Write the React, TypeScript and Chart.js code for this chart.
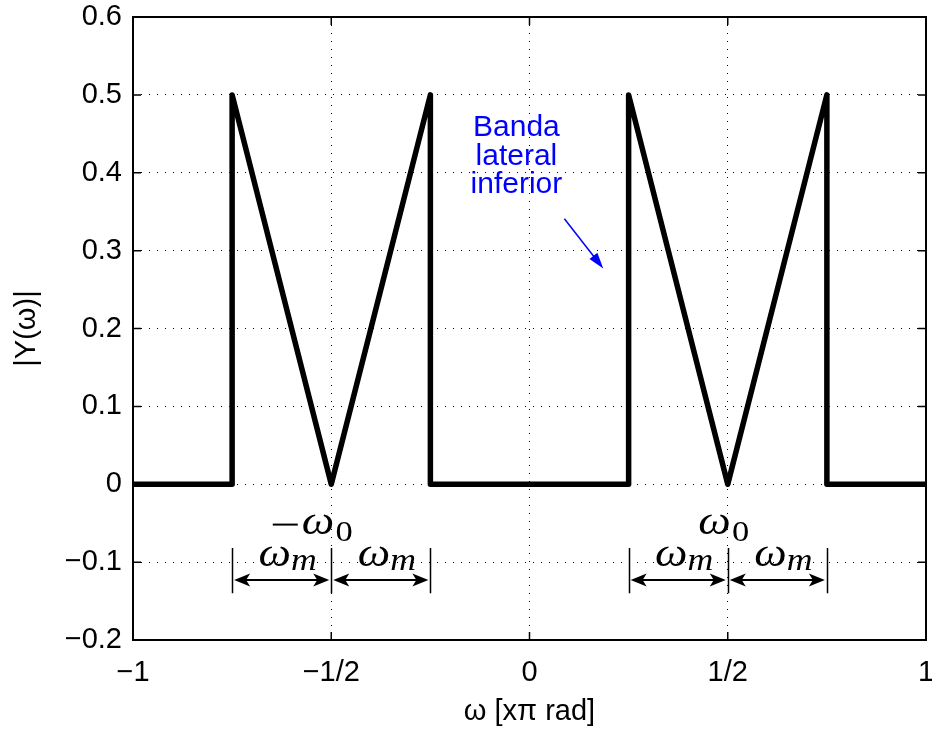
import React, { useEffect, useRef } from "react";
import { Chart, registerables } from "chart.js";

Chart.register(...registerables);

// ---- data ----
const freqX = [-1, -0.75, -0.75, -0.5, -0.25, -0.25, 0.25, 0.25, 0.5, 0.75, 0.75, 1];
const magnitude = [0, 0, 0.5, 0, 0.5, 0, 0, 0.5, 0, 0.5, 0, 0];

const xTickValues = [-1, -0.5, 0, 0.5, 1];
const xTickLabels = ["\u22121", "\u22121/2", "0", "1/2", "1"];
const yTickValues = [-0.2, -0.1, 0, 0.1, 0.2, 0.3, 0.4, 0.5, 0.6];
const yTickLabels = ["\u22120.2", "\u22120.1", "0", "0.1", "0.2", "0.3", "0.4", "0.5", "0.6"];

// annotation content
const carrierX = [-0.5, 0.5];
const carrierNegative = [true, false];
const markerX = [-0.75, -0.5, -0.25, 0.25, 0.5, 0.75];
const spanStart = [-0.75, -0.5, 0.25, 0.5];
const spanEnd = [-0.5, -0.25, 0.5, 0.75];
const bandLabelLines = ["Banda", "lateral", "inferior"];
const bandLabelX = -0.033;
const bandLabelY = [0.458, 0.421, 0.385];
const bandArrowFrom = [0.088, 0.341];
const bandArrowTo = [0.186, 0.277];

const SANS = '"Liberation Sans", Arial, Helvetica, sans-serif';
const SERIF = '"Liberation Serif", "Times New Roman", serif';
const FS = 29;

function stealthHead(ctx: CanvasRenderingContext2D, x: number, y: number, dir: number) {
  const L = 16, W = 6.5, back = 4;
  ctx.beginPath();
  ctx.moveTo(x, y);
  ctx.lineTo(x - dir * L, y - W);
  ctx.lineTo(x - dir * (L - back), y);
  ctx.lineTo(x - dir * L, y + W);
  ctx.closePath();
  ctx.fill();
}

const overlay = {
  id: "overlay",
  afterDatasetsDraw(chart: any) {
    const { ctx, chartArea: a, scales } = chart;
    const xs = scales.x, ys = scales.y;
    ctx.save();
    ctx.strokeStyle = "#000";
    ctx.fillStyle = "#000";
    // inward ticks
    ctx.lineWidth = 1.5;
    const tl = 8;
    ctx.beginPath();
    xTickValues.forEach((v) => {
      const px = xs.getPixelForValue(v);
      ctx.moveTo(px, a.bottom); ctx.lineTo(px, a.bottom - tl);
      ctx.moveTo(px, a.top); ctx.lineTo(px, a.top + tl);
    });
    yTickValues.forEach((v) => {
      const py = ys.getPixelForValue(v);
      ctx.moveTo(a.left, py); ctx.lineTo(a.left + tl, py);
      ctx.moveTo(a.right, py); ctx.lineTo(a.right - tl, py);
    });
    ctx.stroke();
    // box
    ctx.lineWidth = 2;
    ctx.strokeRect(a.left, a.top, a.right - a.left, a.bottom - a.top);

    // dimension marker verticals
    ctx.lineWidth = 1.5;
    const yTop = ys.getPixelForValue(-0.082);
    const yBot = ys.getPixelForValue(-0.14);
    ctx.beginPath();
    markerX.forEach((v) => {
      const px = Math.round(xs.getPixelForValue(v)) + 0.5;
      ctx.moveTo(px, yTop); ctx.lineTo(px, yBot);
    });
    ctx.stroke();
    // double arrows
    const yArr = ys.getPixelForValue(-0.123);
    spanStart.forEach((s, i) => {
      const x1 = xs.getPixelForValue(s) + 2;
      const x2 = xs.getPixelForValue(spanEnd[i]) - 2;
      ctx.lineWidth = 2;
      ctx.beginPath();
      ctx.moveTo(x1 + 8, yArr); ctx.lineTo(x2 - 8, yArr);
      ctx.stroke();
      stealthHead(ctx, x1, yArr, -1);
      stealthHead(ctx, x2, yArr, 1);
      // omega_m label
      const mid = (xs.getPixelForValue(s) + xs.getPixelForValue(spanEnd[i])) / 2;
      const base = ys.getPixelForValue(-0.105);
      ctx.save();
      ctx.translate(mid + 6, base);
      ctx.scale(1.15, 1);
      ctx.font = `italic 40px ${SERIF}`;
      const w1 = ctx.measureText("\u03c9").width;
      ctx.font = `italic 31px ${SERIF}`;
      const w2 = ctx.measureText("m").width;
      const start = -(w1 + w2) / 2;
      ctx.textAlign = "left";
      ctx.textBaseline = "alphabetic";
      ctx.font = `italic 40px ${SERIF}`;
      ctx.fillText("\u03c9", start, 0);
      ctx.font = `italic 31px ${SERIF}`;
      ctx.fillText("m", start + w1, 4);
      ctx.restore();
    });
    // carrier labels
    carrierX.forEach((c, i) => {
      const px = xs.getPixelForValue(c);
      const base = ys.getPixelForValue(-0.064);
      ctx.save();
      ctx.translate(px + 3, base);
      ctx.scale(1.15, 1);
      ctx.textBaseline = "alphabetic";
      ctx.font = `italic 40px ${SERIF}`;
      const ww = ctx.measureText("\u03c9").width;
      ctx.textAlign = "right";
      ctx.fillText("\u03c9", 0, 0);
      ctx.textAlign = "left";
      ctx.font = `30px ${SERIF}`;
      ctx.fillText("0", 1, 7);
      ctx.restore();
      if (carrierNegative[i]) {
        // long math minus sign
        const wPx = ww * 1.15;
        ctx.fillRect(px + 3 - wPx - 29, base - 10.5, 25, 2);
      }
    });

    // blue annotation
    ctx.fillStyle = "#0000ff";
    ctx.strokeStyle = "#0000ff";
    ctx.font = `30px ${SANS}`;
    ctx.textAlign = "center";
    ctx.textBaseline = "middle";
    bandLabelLines.forEach((t, i) => {
      ctx.fillText(t, xs.getPixelForValue(bandLabelX), ys.getPixelForValue(bandLabelY[i]));
    });
    const ax1 = xs.getPixelForValue(bandArrowFrom[0]);
    const ay1 = ys.getPixelForValue(bandArrowFrom[1]);
    const ax2 = xs.getPixelForValue(bandArrowTo[0]);
    const ay2 = ys.getPixelForValue(bandArrowTo[1]);
    const ang = Math.atan2(ay2 - ay1, ax2 - ax1);
    const HL = 16, HW = 5;
    ctx.lineWidth = 1.5;
    ctx.beginPath();
    ctx.moveTo(ax1, ay1);
    ctx.lineTo(ax2 - Math.cos(ang) * HL * 0.8, ay2 - Math.sin(ang) * HL * 0.8);
    ctx.stroke();
    ctx.beginPath();
    ctx.moveTo(ax2, ay2);
    ctx.lineTo(ax2 - Math.cos(ang) * HL + Math.sin(ang) * HW, ay2 - Math.sin(ang) * HL - Math.cos(ang) * HW);
    ctx.lineTo(ax2 - Math.cos(ang) * HL - Math.sin(ang) * HW, ay2 - Math.sin(ang) * HL + Math.cos(ang) * HW);
    ctx.closePath();
    ctx.fill();
    ctx.restore();
  },
};

export default function App() {
  const ref = useRef<HTMLCanvasElement | null>(null);
  useEffect(() => {
    document.body.style.margin = "0";
    const canvas = ref.current!;
    const chart = new Chart(canvas, {
      type: "scatter",
      data: {
        datasets: [
          {
            data: freqX.map((x, i) => ({ x, y: magnitude[i] })),
            showLine: true,
            borderColor: "#000",
            borderWidth: 5.5,
            pointRadius: 0,
            borderJoinStyle: "round",
            tension: 0,
          } as any,
        ],
      },
      options: {
        animation: false,
        responsive: false,
        devicePixelRatio: 1,
        layout: { padding: { top: 17, right: 6, left: 0, bottom: 0 } },
        plugins: { legend: { display: false }, tooltip: { enabled: false } },
        scales: {
          x: {
            type: "linear",
            min: -1,
            max: 1,
            afterBuildTicks: (s: any) => { s.ticks = xTickValues.map((v) => ({ value: v })); },
            afterFit: (s: any) => { s.height = 93; s.paddingLeft = 0; s.paddingRight = 0; },
            ticks: {
              callback: (_v: any, i: number) => xTickLabels[i],
              color: "#000",
              font: { family: SANS, size: FS },
              padding: 16,
              maxRotation: 0,
              autoSkip: false,
            },
            grid: { color: "#000", lineWidth: 1, drawTicks: false },
            border: { display: false, dash: [1, 7] },
            title: {
              display: true,
              text: "\u03c9 [x\u03c0 rad]",
              color: "#000",
              font: { family: SANS, size: FS },
              padding: { top: 0, bottom: 4 },
            },
          },
          y: {
            type: "linear",
            min: -0.2,
            max: 0.6,
            afterBuildTicks: (s: any) => { s.ticks = yTickValues.map((v) => ({ value: v })); },
            afterFit: (s: any) => { s.width = 133; s.paddingTop = 0; s.paddingBottom = 0; },
            ticks: {
              callback: (_v: any, i: number) => yTickLabels[i],
              color: "#000",
              font: { family: SANS, size: FS },
              padding: 11,
              autoSkip: false,
            },
            grid: { color: "#000", lineWidth: 1, drawTicks: false },
            border: { display: false, dash: [1, 7] },
            title: {
              display: true,
              text: "|Y(\u03c9)|",
              color: "#000",
              font: { family: SANS, size: FS },
              padding: { top: 10, bottom: 0 },
            },
          },
        },
      },
      plugins: [overlay],
    });
    return () => chart.destroy();
  }, []);
  return <canvas ref={ref} width={932} height={733} style={{ display: "block" }} />;
}
